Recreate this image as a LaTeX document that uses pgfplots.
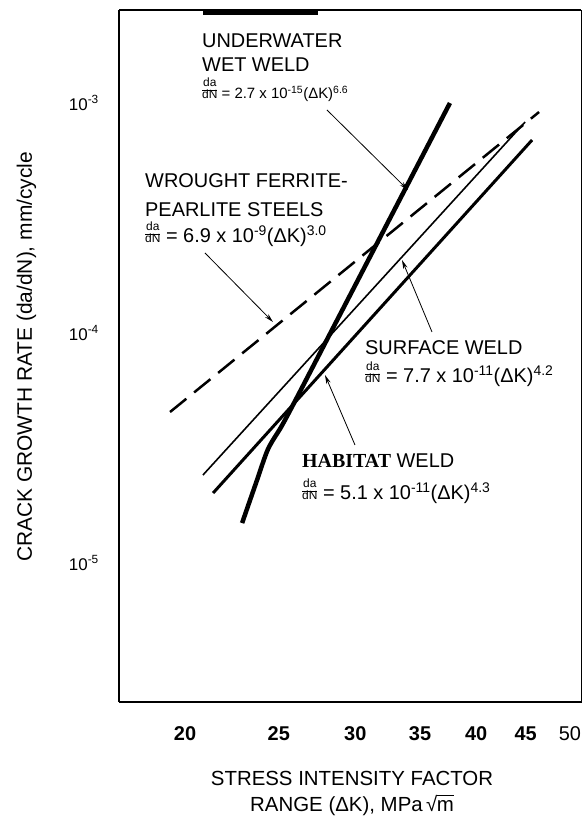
\documentclass[border=0pt]{standalone}
\usepackage{fontspec}
\setmainfont{Liberation Sans}
\newfontfamily\seriffont{Liberation Serif}
\usepackage{pgfplots}
\pgfplotsset{compat=1.18}
\usetikzlibrary{arrows.meta}
\newcommand{\fs}[1]{\fontsize{#1}{#1}\selectfont}
\newcommand{\dadn}[1]{{\fontsize{12}{14}\selectfont\renewcommand{\arraystretch}{#1}\setlength{\arrayrulewidth}{0.6bp}\begin{tabular}[b]{@{}c@{}}da\\\hline dN\end{tabular}}}
\newcommand{\formula}[5]{\fs{#1}\dadn{#5} = #2 x 10\textsuperscript{#3}(ΔK)\textsuperscript{#4}}
\begin{document}
\begin{tikzpicture}
\path[use as bounding box] (-119bp,-117bp) rectangle (465bp,702bp);
\begin{axis}[
 at={(0,0)}, anchor=south west,
 scale only axis, width=462bp, height=692bp,
 xmode=log, ymode=log,
 xmin=17.09, xmax=51.35, ymin=2.487e-6, ymax=2.537e-3,
 xtick={20,25,30,35,40,45,50},
 xticklabels={\textbf{20},\textbf{25},\textbf{30},\textbf{35},\textbf{40},\textbf{45},50},
 ytick={1e-5,1e-4,1e-3},
 yticklabels={10\textsuperscript{-5},10\textsuperscript{-4},10\textsuperscript{-3}},
 tick style={draw=none},
 xticklabel style={font=\fs{20}, anchor=base, yshift=-38bp, inner sep=0pt},
 yticklabel style={font=\fs{17}, anchor=east, xshift=-20bp, inner sep=0pt},
 axis line style={line width=1bp},
 clip=false,
]
% underwater wet weld
\addplot[line width=4.5bp, line join=round, smooth, tension=0.5] coordinates {
 (22.91,1.492e-5) (23.74,2.296e-5) (24.37,3.130e-5) (25.14,3.903e-5) (25.86,4.864e-5)
 (28,9.25e-5) (32,2.724e-4) (35,5.62e-4) (37.58,1.0e-3)};
% wrought ferrite-pearlite steels
\addplot[line width=2.5bp, dash pattern=on 21bp off 10bp] coordinates {
 (19.30,4.535e-5) (46.47,9.139e-4)};
% surface weld
\addplot[line width=1.6bp] coordinates {
 (20.87,2.413e-5) (44.95,8.268e-4)};
% habitat weld
\addplot[line width=3bp] coordinates {
 (21.38,2.015e-5) (45.70,6.905e-4)};
\end{axis}
% frame emphasis
\draw[line width=2bp] (0,0) -- (0,692bp);
\draw[line width=2.2bp] (0,0) -- (462bp,0);
\draw[line width=2.5bp] (0,692bp) -- (462bp,692bp);
\draw[line width=5bp] (84bp,689bp) -- (199bp,689bp);
% annotations
\node[anchor=base west, inner sep=0pt, font=\fs{20}] at (83bp,654bp) {UNDERWATER};
\node[anchor=base west, inner sep=0pt, font=\fs{20}] at (83bp,630bp) {WET WELD};
\node[anchor=base west, inner sep=0pt] at (83bp,603bp) {\formula{15}{2.7}{-15}{6.6}{0.75}};
\node[anchor=base west, inner sep=0pt, font=\fs{20}] at (26bp,514bp) {WROUGHT FERRITE-};
\node[anchor=base west, inner sep=0pt, font=\fs{20}] at (26bp,485bp) {PEARLITE STEELS};
\node[anchor=base west, inner sep=0pt] at (26bp,459bp) {\formula{20}{6.9}{-9}{3.0}{0.85}};
\node[anchor=base west, inner sep=0pt, font=\fs{20}] at (246bp,347bp) {SURFACE WELD};
\node[anchor=base west, inner sep=0pt] at (246bp,319bp) {\formula{20}{7.7}{-11}{4.2}{0.85}};
\node[anchor=base west, inner sep=0pt, font=\fs{20}] at (183bp,234bp) {{\seriffont\bfseries HABITAT} WELD};
\node[anchor=base west, inner sep=0pt] at (183bp,202bp) {\formula{20}{5.1}{-11}{4.3}{0.85}};
\draw[line width=0.8bp, -{Stealth[length=9bp,width=4.5bp]}] (208bp,592bp) -- (289bp,512bp);
\draw[line width=0.8bp, -{Stealth[length=9bp,width=4.5bp]}] (86bp,449bp) -- (154bp,380bp);
\draw[line width=0.8bp, -{Stealth[length=9bp,width=4.5bp]}] (313bp,370bp) -- (283bp,442bp);
\draw[line width=0.8bp, -{Stealth[length=9bp,width=4.5bp]}] (236bp,257bp) -- (206bp,327bp);
% axis titles
\node[anchor=base, inner sep=0pt, font=\fs{20.5}] at (233bp,-83bp) {STRESS INTENSITY FACTOR};
\node[anchor=base, inner sep=0pt, font=\fs{20.5}] at (233bp,-109bp) {RANGE (ΔK), MPa\,√\kern-0.6bp\makebox[0pt][l]{\rule[15.5bp]{17.5bp}{0.9bp}}m};
\node[anchor=base, rotate=90, inner sep=0pt, font=\fs{21}] at (-87bp,345bp) {CRACK GROWTH RATE (da/dN), mm/cycle};
\end{tikzpicture}
\end{document}
